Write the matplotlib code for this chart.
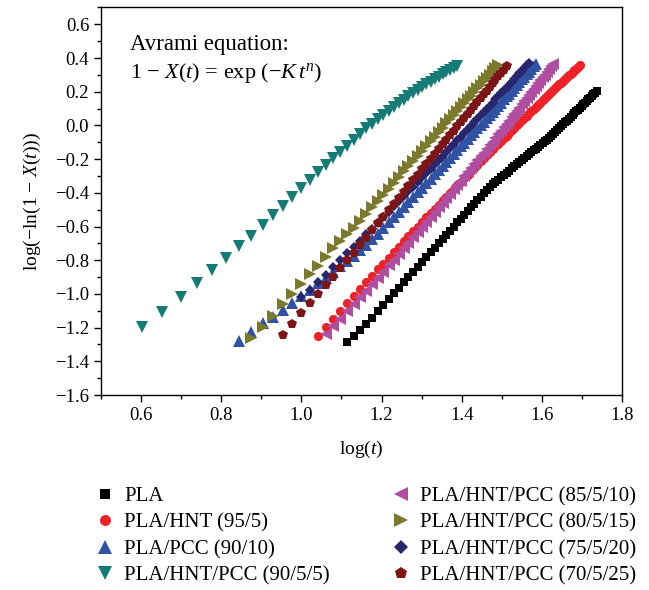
import numpy as np
import matplotlib.pyplot as plt
from matplotlib.ticker import MultipleLocator

plt.rcParams['font.family'] = ['Liberation Serif', 'DejaVu Serif']
plt.rcParams['mathtext.fontset'] = 'custom'
plt.rcParams['mathtext.rm'] = 'Liberation Serif'
plt.rcParams['mathtext.it'] = 'Liberation Serif:italic'

# crystallisation time t (min) and log(-ln(1 - X(t))) for each sample
t_pla = [13, 13.5, 14, 14.5, 15, 15.5, 16, 16.5, 17, 17.5,
         18, 18.5, 19, 19.5, 20, 20.5, 21, 21.5, 22, 22.5,
         23, 23.5, 24, 24.5, 25, 25.5, 26, 26.5, 27, 27.5,
         28, 28.5, 29, 29.5, 30, 30.5, 31, 31.5, 32, 32.5,
         33, 33.5, 34, 34.5, 35, 35.5, 36, 36.5, 37, 37.5,
         38, 38.5, 39, 39.5, 40, 40.5, 41, 41.5, 42, 42.5,
         43, 43.5, 44, 44.5, 45, 45.5, 46, 46.5, 47, 47.5,
         48, 48.5, 49, 49.5, 50, 50.5, 51, 51.5, 52, 52.5,
         53, 53.5, 54, 54.5]
y_pla = [-1.283, -1.247, -1.213, -1.180, -1.141, -1.103, -1.067, -1.031, -0.997, -0.964,
         -0.931, -0.900, -0.869, -0.839, -0.810, -0.781, -0.754, -0.727, -0.700, -0.674,
         -0.649, -0.624, -0.600, -0.576, -0.553, -0.530, -0.508, -0.486, -0.465, -0.444,
         -0.423, -0.403, -0.382, -0.363, -0.349, -0.335, -0.321, -0.307, -0.294, -0.281,
         -0.268, -0.255, -0.243, -0.230, -0.218, -0.206, -0.194, -0.183, -0.171, -0.160,
         -0.148, -0.137, -0.126, -0.116, -0.105, -0.094, -0.084, -0.074, -0.064, -0.052,
         -0.040, -0.028, -0.016, -0.005, 0.007, 0.018, 0.029, 0.041, 0.051, 0.062,
         0.073, 0.083, 0.094, 0.104, 0.115, 0.125, 0.135, 0.145, 0.155, 0.165,
         0.175, 0.184, 0.194, 0.203]

t_hnt = [11, 11.5, 12, 12.5, 13, 13.5, 14, 14.5, 15, 15.5,
         16, 16.5, 17, 17.5, 18, 18.5, 19, 19.5, 20, 20.5,
         21, 21.5, 22, 22.5, 23, 23.5, 24, 24.5, 25, 25.5,
         26, 26.5, 27, 27.5, 28, 28.5, 29, 29.5, 30, 30.5,
         31, 31.5, 32, 32.5, 33, 33.5, 34, 34.5, 35, 35.5,
         36, 36.5, 37, 37.5, 38, 38.5, 39, 39.5, 40, 40.5,
         41, 41.5, 42, 42.5, 43, 43.5, 44, 44.5, 45, 45.5,
         46, 46.5, 47, 47.5, 48, 48.5, 49, 49.5]
y_hnt = [-1.250, -1.198, -1.148, -1.101, -1.056, -1.012, -0.971, -0.931, -0.892, -0.855,
         -0.820, -0.785, -0.752, -0.720, -0.688, -0.658, -0.629, -0.601, -0.573, -0.546,
         -0.520, -0.494, -0.470, -0.445, -0.422, -0.399, -0.376, -0.354, -0.333, -0.312,
         -0.292, -0.272, -0.252, -0.233, -0.214, -0.196, -0.177, -0.160, -0.142, -0.125,
         -0.108, -0.092, -0.076, -0.060, -0.045, -0.029, -0.014, 0.001, 0.015, 0.030,
         0.044, 0.058, 0.071, 0.085, 0.098, 0.111, 0.124, 0.136, 0.149, 0.161,
         0.173, 0.185, 0.197, 0.209, 0.220, 0.232, 0.243, 0.254, 0.265, 0.276,
         0.286, 0.297, 0.307, 0.317, 0.327, 0.337, 0.347, 0.357]

t_pcc = [7, 7.5, 8, 8.5, 9, 9.5, 10, 10.5, 11, 11.5,
         12, 12.5, 13, 13.5, 14, 14.5, 15, 15.5, 16, 16.5,
         17, 17.5, 18, 18.5, 19, 19.5, 20, 20.5, 21, 21.5,
         22, 22.5, 23, 23.5, 24, 24.5, 25, 25.5, 26, 26.5,
         27, 27.5, 28, 28.5, 29, 29.5, 30, 30.5, 31, 31.5,
         32, 32.5, 33, 33.5, 34, 34.5, 35, 35.5, 36, 36.5,
         37, 37.5, 38, 38.5]
y_pcc = [-1.278, -1.225, -1.175, -1.136, -1.096, -1.053, -1.013, -0.975, -0.938, -0.903,
         -0.869, -0.836, -0.804, -0.773, -0.742, -0.712, -0.676, -0.642, -0.608, -0.575,
         -0.544, -0.513, -0.482, -0.453, -0.424, -0.396, -0.369, -0.341, -0.315, -0.290,
         -0.265, -0.240, -0.216, -0.192, -0.169, -0.146, -0.124, -0.102, -0.080, -0.059,
         -0.037, -0.017, 0.003, 0.023, 0.043, 0.062, 0.081, 0.100, 0.118, 0.136,
         0.154, 0.172, 0.189, 0.206, 0.223, 0.240, 0.257, 0.273, 0.289, 0.305,
         0.320, 0.336, 0.351, 0.366]

t_90_5_5 = [4, 4.5, 5, 5.5, 6, 6.5, 7, 7.5, 8, 8.5,
            9, 9.5, 10, 10.5, 11, 11.5, 12, 12.5, 13, 13.5,
            14, 14.5, 15, 15.5, 16, 16.5, 17, 17.5, 18, 18.5,
            19, 19.5, 20, 20.5, 21, 21.5, 22, 22.5, 23, 23.5,
            24, 24.5]
y_90_5_5 = [-1.195, -1.106, -1.017, -0.937, -0.859, -0.786, -0.717, -0.656, -0.592, -0.533,
            -0.478, -0.424, -0.374, -0.325, -0.279, -0.236, -0.196, -0.157, -0.121, -0.088,
            -0.048, -0.018, 0.011, 0.038, 0.063, 0.088, 0.110, 0.132, 0.153, 0.173,
            0.192, 0.210, 0.227, 0.244, 0.260, 0.275, 0.289, 0.303, 0.316, 0.329,
            0.341, 0.353]

t_85_5_10 = [11.5, 12, 12.5, 13, 13.5, 14, 14.5, 15, 15.5, 16,
             16.5, 17, 17.5, 18, 18.5, 19, 19.5, 20, 20.5, 21,
             21.5, 22, 22.5, 23, 23.5, 24, 24.5, 25, 25.5, 26,
             26.5, 27, 27.5, 28, 28.5, 29, 29.5, 30, 30.5, 31,
             31.5, 32, 32.5, 33, 33.5, 34, 34.5, 35, 35.5, 36,
             36.5, 37, 37.5, 38, 38.5, 39, 39.5, 40, 40.5, 41,
             41.5, 42, 42.5]
y_85_5_10 = [-1.240, -1.193, -1.148, -1.104, -1.062, -1.021, -0.981, -0.942, -0.904, -0.867,
             -0.831, -0.797, -0.762, -0.729, -0.696, -0.664, -0.633, -0.603, -0.573, -0.544,
             -0.515, -0.487, -0.459, -0.432, -0.405, -0.379, -0.353, -0.328, -0.303, -0.278,
             -0.255, -0.231, -0.207, -0.184, -0.162, -0.139, -0.118, -0.096, -0.074, -0.053,
             -0.032, -0.012, 0.009, 0.028, 0.048, 0.068, 0.087, 0.106, 0.125, 0.143,
             0.162, 0.180, 0.198, 0.216, 0.233, 0.251, 0.268, 0.285, 0.302, 0.318,
             0.334, 0.351, 0.367]

t_80_5_15 = [7.5, 8, 8.5, 9, 9.5, 10, 10.5, 11, 11.5, 12,
             12.5, 13, 13.5, 14, 14.5, 15, 15.5, 16, 16.5, 17,
             17.5, 18, 18.5, 19, 19.5, 20, 20.5, 21, 21.5, 22,
             22.5, 23, 23.5, 24, 24.5, 25, 25.5, 26, 26.5, 27,
             27.5, 28, 28.5, 29, 29.5, 30, 30.5, 31]
y_80_5_15 = [-1.264, -1.198, -1.130, -1.062, -1.001, -0.942, -0.882, -0.833, -0.780, -0.730,
             -0.687, -0.647, -0.608, -0.566, -0.525, -0.486, -0.448, -0.411, -0.375, -0.340,
             -0.306, -0.273, -0.241, -0.210, -0.180, -0.151, -0.122, -0.094, -0.067, -0.040,
             -0.014, 0.012, 0.037, 0.061, 0.086, 0.109, 0.132, 0.155, 0.177, 0.199,
             0.220, 0.241, 0.261, 0.282, 0.302, 0.321, 0.340, 0.359]

t_75_5_20 = [10, 10.5, 11, 11.5, 12, 12.5, 13, 13.5, 14, 14.5,
             15, 15.5, 16, 16.5, 17, 17.5, 18, 18.5, 19, 19.5,
             20, 20.5, 21, 21.5, 22, 22.5, 23, 23.5, 24, 24.5,
             25, 25.5, 26, 26.5, 27, 27.5, 28, 28.5, 29, 29.5,
             30, 30.5, 31, 31.5, 32, 32.5, 33, 33.5, 34, 34.5,
             35, 35.5, 36, 36.5, 37]
y_75_5_20 = [-1.021, -0.977, -0.932, -0.888, -0.843, -0.799, -0.760, -0.721, -0.684, -0.647,
             -0.612, -0.578, -0.545, -0.512, -0.481, -0.451, -0.420, -0.391, -0.363, -0.335,
             -0.308, -0.282, -0.256, -0.231, -0.206, -0.181, -0.157, -0.134, -0.111, -0.088,
             -0.066, -0.045, -0.023, -0.002, 0.018, 0.039, 0.059, 0.078, 0.098, 0.117,
             0.135, 0.154, 0.172, 0.190, 0.208, 0.225, 0.242, 0.259, 0.276, 0.292,
             0.309, 0.325, 0.341, 0.356, 0.372]

t_70_5_25 = [9, 9.5, 10, 10.5, 11, 11.5, 12, 12.5, 13, 13.5,
             14, 14.5, 15, 15.5, 16, 16.5, 17, 17.5, 18, 18.5,
             19, 19.5, 20, 20.5, 21, 21.5, 22, 22.5, 23, 23.5,
             24, 24.5, 25, 25.5, 26, 26.5, 27, 27.5, 28, 28.5,
             29, 29.5, 30, 30.5, 31, 31.5, 32, 32.5]
y_70_5_25 = [-1.244, -1.179, -1.115, -1.056, -1.001, -0.948, -0.898, -0.849, -0.799, -0.756,
             -0.710, -0.666, -0.623, -0.582, -0.542, -0.503, -0.466, -0.429, -0.394, -0.359,
             -0.325, -0.293, -0.261, -0.230, -0.199, -0.170, -0.141, -0.112, -0.085, -0.058,
             -0.031, -0.005, 0.020, 0.045, 0.070, 0.093, 0.117, 0.140, 0.163, 0.185,
             0.207, 0.229, 0.250, 0.271, 0.291, 0.311, 0.331, 0.351]

labels = ['PLA', 'PLA/HNT (95/5)', 'PLA/PCC (90/10)', 'PLA/HNT/PCC (90/5/5)',
          'PLA/HNT/PCC (85/5/10)', 'PLA/HNT/PCC (80/5/15)', 'PLA/HNT/PCC (75/5/20)',
          'PLA/HNT/PCC (70/5/25)']

series = [
    (t_pla, y_pla, 's', '#000000', 5.8),
    (t_hnt, y_hnt, 'o', '#ee2226', 6.6),
    (t_pcc, y_pcc, '^', '#2f52a3', 8.0),
    (t_90_5_5, y_90_5_5, 'v', '#147b77', 8.0),
    (t_85_5_10, y_85_5_10, '<', '#b04fa2', 8.0),
    (t_80_5_15, y_80_5_15, '>', '#7b7a2c', 8.0),
    (t_75_5_20, y_75_5_20, 'D', '#27266f', 5.6),
    (t_70_5_25, y_70_5_25, 'p', '#7d1416', 7.5),
]

fig = plt.figure(figsize=(6.49, 5.90), dpi=100)
ax = fig.add_axes([0.1556, 0.3305, 0.8028, 0.6568])

for (t, y, marker, color, ms), label in zip(series, labels):
    ax.plot(np.log10(t), y, linestyle='none', marker=marker, ms=ms,
            color=color, markeredgewidth=0, label=label)

ax.set_xlim(0.5, 1.8)
ax.set_ylim(-1.6, 0.7)
ax.xaxis.set_major_locator(MultipleLocator(0.2))
ax.xaxis.set_minor_locator(MultipleLocator(0.1))
ax.yaxis.set_major_locator(MultipleLocator(0.2))
ax.yaxis.set_minor_locator(MultipleLocator(0.1))
ax.tick_params(which='both', direction='out', top=False, right=False, labelsize=13.5)
ax.tick_params(which='major', length=5, width=1)
ax.tick_params(which='minor', length=3, width=1)
for sp in ax.spines.values():
    sp.set_linewidth(1.0)

ax.set_xlabel('log($t$)', fontsize=14, labelpad=11)
ax.set_ylabel('log(−ln(1 − $X$($t$)))', fontsize=14, labelpad=9)

ax.text(0.056, 0.905, 'Avrami equation:', transform=ax.transAxes,
        fontsize=16.5, va='center', ha='left')
ax.text(0.056, 0.830, '1 − $X$($t$) = exp (−$K\\,t^n$)', transform=ax.transAxes,
        fontsize=16, va='center', ha='left')

fig.legend(loc='upper left', bbox_to_anchor=(0.117, 0.207), ncol=2,
           frameon=False, fontsize=15, handlelength=1.0, handletextpad=0.43,
           columnspacing=2.9, labelspacing=0.33, borderpad=0.4, markerscale=1.2)

fig.savefig('out.png', dpi=100)
